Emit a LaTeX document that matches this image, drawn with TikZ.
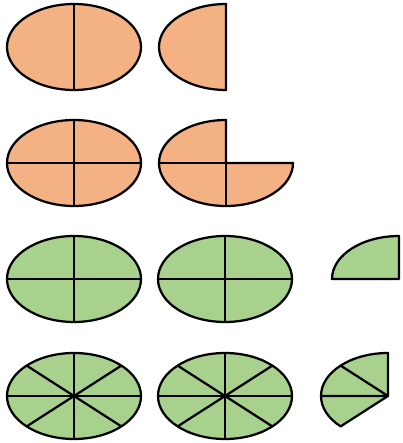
\documentclass[tikz,border=0pt]{standalone}
\usepackage{tikz}

\definecolor{peach}{HTML}{F4B183}
\definecolor{leaf}{HTML}{A9D18E}

\begin{document}
\begin{tikzpicture}[
  x=0.025cm,y=0.025cm,
  piece/.style={draw=black, line width=1.6pt, line join=round},
  orangepiece/.style={piece, fill=peach},
  greenpiece/.style={piece, fill=leaf},
  cut/.style={draw=black, line width=1.6pt},
  oval/.style={x radius=67, y radius=43}
]
\useasboundingbox (0,0) rectangle (403,443);

% centres of the shapes, row by row
\coordinate (h1) at (74,396);
\coordinate (h2) at (226,396);
\coordinate (q1) at (74,280);
\coordinate (q2) at (226,280);
\coordinate (g1) at (74,164);
\coordinate (g2) at (225,164);
\coordinate (g3) at (399,164);
\coordinate (e1) at (74,47);
\coordinate (e2) at (225,47);
\coordinate (e3) at (388,47);

% halves
\path[orangepiece] (h1) ellipse [oval];
\draw[cut] (h1) -- ++(0,43) (h1) -- ++(0,-43);
\path[orangepiece] (h2) -- ++(0,43) arc[start angle=90, end angle=270, oval] -- cycle;

% quarters
\path[orangepiece] (q1) ellipse [oval];
\draw[cut] (q1) ++(0,43) -- ++(0,-86) (q1) ++(-67,0) -- ++(134,0);
\path[orangepiece] (q2) -- ++(0,43) arc[start angle=90, end angle=360, oval] -- cycle;
\draw[cut] (q2) -- ++(-67,0) (q2) -- ++(0,-43);

\path[greenpiece] (g1) ellipse [oval];
\draw[cut] (g1) ++(0,43) -- ++(0,-86) (g1) ++(-67,0) -- ++(134,0);
\path[greenpiece] (g2) ellipse [oval];
\draw[cut] (g2) ++(0,43) -- ++(0,-86) (g2) ++(-67,0) -- ++(134,0);
\path[greenpiece] (g3) -- ++(0,43) arc[start angle=90, end angle=180, oval] -- cycle;

% eighths
\path[greenpiece] (e1) ellipse [oval];
\foreach \a in {0,45,...,315}
  \draw[cut] (e1) -- ++({67*cos(\a)},{43*sin(\a)});
\path[greenpiece] (e2) ellipse [oval];
\foreach \a in {0,45,...,315}
  \draw[cut] (e2) -- ++({67*cos(\a)},{43*sin(\a)});
\path[greenpiece] (e3) -- ++(0,43) arc[start angle=90, end angle=225, oval] -- cycle;
\draw[cut] (e3) -- ++({67*cos(135)},{43*sin(135)}) (e3) -- ++(-67,0);
\end{tikzpicture}
\end{document}
